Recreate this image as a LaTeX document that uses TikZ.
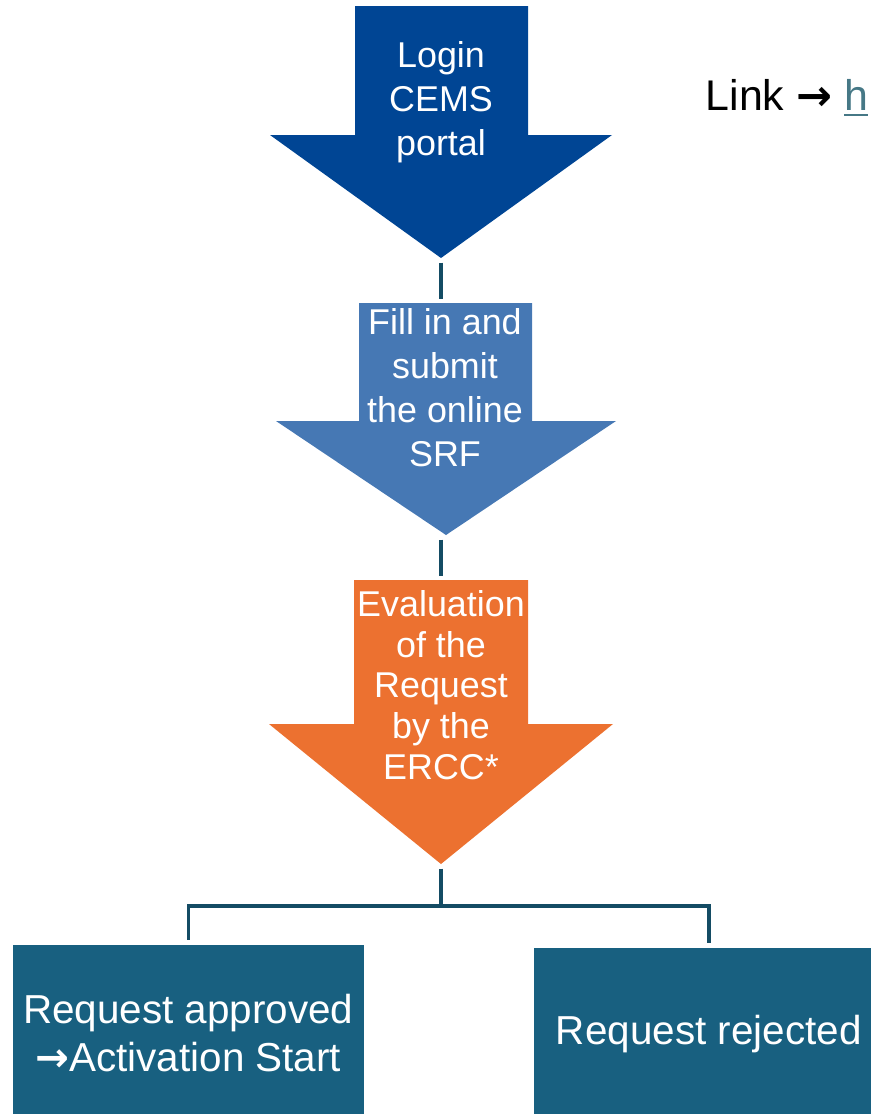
\documentclass[tikz,border=0pt]{standalone}
\usepackage{fontspec}
\setmainfont{Liberation Sans}
\newfontfamily\arrowfont{DejaVu Sans}
\newcommand{\bigarrow}{{\arrowfont\bfseries →}}
\definecolor{loginblue}{RGB}{0,69,148}
\definecolor{srfblue}{RGB}{70,120,180}
\definecolor{evalorange}{RGB}{236,113,48}
\definecolor{boxteal}{RGB}{24,96,128}
\definecolor{lineteal}{RGB}{20,76,100}
\definecolor{urlgrey}{RGB}{70,120,134}

\begin{document}
\begin{tikzpicture}[x=0.01cm, y=-0.01cm,
    steptext/.style={text=white, align=center, inner sep=0pt, font=\fontsize{10.2}{12.5}\selectfont},
    linkline/.style={draw=lineteal, line width=1pt, shorten <=1.3pt, shorten >=1.2pt},
    outcome/.style={fill=boxteal, text=white, align=center, anchor=north west, inner sep=0pt,
        font=\fontsize{11.5}{13.6}\selectfont}]
    \useasboundingbox (0,0) rectangle (871,1114);
    \clip (0,0) rectangle (871,1114);
    % Below are the three big arrows.
        \fill[loginblue] (355,6) -- (528,6) -- (528,135) -- (612,135) -- (441,258) -- (270,135) -- (355,135) -- cycle;
        \fill[srfblue] (359,303) -- (532,303) -- (532,421) -- (616,421) -- (446,535) -- (276,421) -- (359,421) -- cycle;
        \fill[evalorange] (354,580) -- (528,580) -- (528,724) -- (613,724) -- (441,864) -- (269,724) -- (354,724) -- cycle;
        \coordinate (login tip) at (441,258);
        \coordinate (srf top) at (441,303);
        \coordinate (srf tip) at (441,535);
        \coordinate (eval top) at (441,580);
        \coordinate (eval tip) at (441,864);
        \coordinate (split) at (441,906);
    % Text on the arrows.
        \node[steptext] (login) at (441,102) {Login\\CEMS\\portal};
        \node[steptext] (srf) at (445,388) {Fill in and\\submit\\the online\\SRF};
        \node[steptext, font=\fontsize{10.2}{11.6}\selectfont] (eval) at (441,685) {Evaluation\\of the\\Request\\by the\\ERCC*};
    % The two outcomes.
        \node[outcome, minimum width=3.51cm, minimum height=1.76cm] (approved) at (12,944) {Request approved\\\bigarrow Activation Start};
        \node[outcome, minimum width=3.5cm, minimum height=1.73cm] (rejected) at (533,947) {Request rejected};
    % Connectors.
        \draw[linkline] (login tip) -- (srf top);
        \draw[linkline] (srf tip) -- (eval top);
        \draw[linkline, shorten >=0pt] (eval tip) -- (split);
        \draw[linkline, shorten <=0pt] (split) -| (approved.north);
        \draw[linkline, shorten <=0pt] (split) -| (rejected.north);
    % The link at the top right.
        \node[anchor=base west, inner sep=0pt, font=\fontsize{12.2}{14}\selectfont] (link) at (705,110)
            {Link \bigarrow\ \textcolor{urlgrey}{\underline{h}}};
\end{tikzpicture}
\end{document}
